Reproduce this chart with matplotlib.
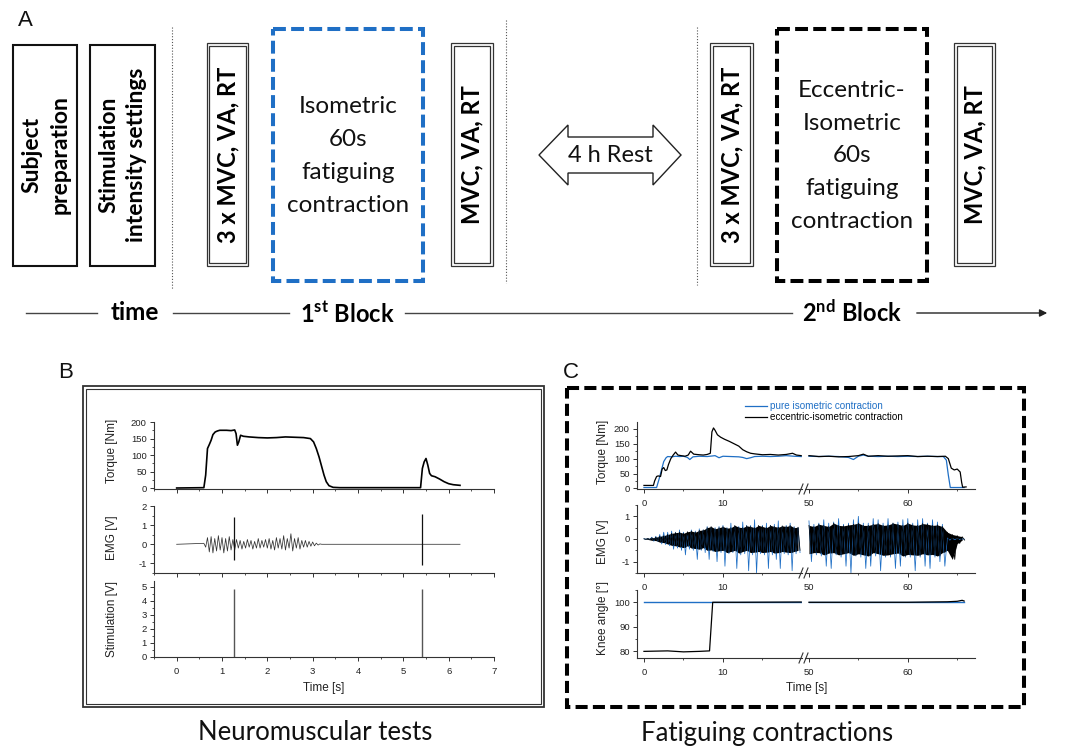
import numpy as np
import matplotlib
matplotlib.use('Agg')
import matplotlib.pyplot as plt
from matplotlib.patches import Rectangle, Polygon
from matplotlib.lines import Line2D
from matplotlib.ticker import MultipleLocator, FixedLocator

W, H = 1072, 750
plt.rcParams['font.family'] = ['Liberation Sans', 'DejaVu Sans']
plt.rcParams['axes.unicode_minus'] = False
plt.rcParams['mathtext.fontset'] = 'custom'
plt.rcParams['mathtext.rm'] = 'Lato:bold'
plt.rcParams['mathtext.it'] = 'Lato:bold'
plt.rcParams['mathtext.bf'] = 'Lato:bold'

BLUE = '#1f6fc5'
SCH = ['Lato', 'DejaVu Sans']

# ---------------- Panel B data (neuromuscular tests) ----------------
b_torque_t = [0, 0.6, 0.64, 0.68, 0.72, 0.76, 0.8, 0.85, 0.9, 0.95, 1.0, 1.1, 1.2, 1.28, 1.31,
              1.34, 1.37, 1.41, 1.47, 1.6, 1.8, 2.0, 2.2, 2.4, 2.6, 2.8, 2.95, 3.02, 3.08, 3.14,
              3.2, 3.25, 3.3, 3.36, 3.45, 3.6, 4.0, 4.5, 5.0, 5.38, 5.42, 5.46, 5.5, 5.54, 5.58,
              5.62, 5.7, 5.8, 5.9, 6.0, 6.1, 6.25]
b_torque_v = [1, 2, 40, 120, 132, 145, 162, 170, 173, 175, 175, 175, 174, 176, 165,
              130, 140, 160, 157, 155, 153, 152, 153, 155, 154, 153, 150, 140, 120, 95,
              65, 40, 20, 8, 3, 2, 2, 2, 2, 2, 60, 80, 90, 70, 45,
              38, 35, 28, 20, 14, 11, 9]
b_emg_start, b_emg_step, b_emg_end = 0.60, 0.04, 6.25
b_emg_vals = [0.05, -0.15, 0.35, -0.4, 0.4, -0.45, 0.3, -0.35, 0.45, -0.3,
              0.35, -0.45, 0.3, -0.35, 0.4, -0.3, 0.25, -0.3, 0.25, -0.2,
              0.2, -0.25, 0.15, -0.2, 0.25, -0.15, 0.2, -0.25, 0.15, -0.2,
              0.3, -0.2, 0.2, -0.15, 0.25, -0.2, 0.3, -0.25, 0.2, -0.3,
              0.35, -0.2, 0.3, -0.25, 0.45, -0.3, 0.3, -0.2, 0.55, -0.35,
              0.3, -0.2, 0.35, -0.25, 0.2, -0.15, 0.2, -0.15, 0.15, -0.1,
              0.12, -0.08, 0.06, -0.04, 0.02, 0.0]
b_spike_t = [1.27, 5.41]
b_spike_hi = [1.45, 1.6]
b_spike_lo = [-0.8, -1.1]
b_stim_t = [1.27, 5.41]
b_stim_v = [4.8, 4.8]

# ---------------- Panel C data (fatiguing contractions) ----------------
c_tq_blue1_t = [0, 1.6, 1.9, 2.2, 2.5, 2.8, 3.0, 3.5, 4.0, 4.5, 5.0, 5.5, 5.8, 6.2, 7, 8, 9, 9.5,
                10, 11, 12, 12.5, 13, 13.5, 14, 15, 16, 17, 18, 19, 19.9]
c_tq_blue1_v = [3, 3, 30, 60, 90, 103, 107, 106, 108, 107, 108, 104, 97, 106, 108, 107, 110, 103,
                108, 107, 106, 104, 100, 103, 107, 108, 107, 108, 110, 108, 107]
c_tq_black1_t = [0, 1.2, 1.35, 1.6, 1.8, 2.1, 2.3, 2.5, 2.7, 2.9, 3.1, 3.4, 3.7, 4.0, 4.3, 4.7,
                 5.2, 5.6, 5.9, 6.3, 7.0, 7.5, 8.0, 8.4, 8.6, 8.8, 9.0, 9.3, 9.7, 10.2, 10.8,
                 11.4, 12.0, 12.5, 13.0, 13.5, 14.0, 15, 16, 17, 18, 18.8, 19.3, 19.9]
c_tq_black1_v = [10, 10, 25, 40, 42, 40, 65, 70, 60, 62, 80, 100, 112, 122, 112, 110,
                 108, 112, 125, 115, 113, 112, 114, 118, 190, 203, 195, 180, 172, 165, 158,
                 150, 142, 130, 123, 118, 116, 113, 114, 112, 114, 118, 112, 110]
c_tq_blue2_t = [50, 51, 52, 53, 54, 54.5, 55, 55.5, 56, 57, 58, 59, 60, 61, 62, 63, 63.6, 63.9,
                64.1, 64.3, 64.6, 65.7]
c_tq_blue2_v = [108, 107, 108, 107, 104, 97, 108, 112, 108, 107, 108, 107, 108, 107, 108, 107,
                107, 95, 45, 3, 3, 3]
c_tq_black2_t = [50, 51, 52, 53, 54, 55, 55.5, 56, 57, 58, 59, 60, 61, 62, 63, 63.8, 64.1, 64.4,
                 64.7, 65.0, 65.3, 65.45, 65.55, 65.9]
c_tq_black2_v = [110, 107, 108, 106, 107, 110, 115, 108, 110, 108, 109, 110, 107, 108, 107, 108,
                 100, 68, 62, 65, 55, 20, 4, 5]

c_emg_step = 0.25
c_emg_black1 = [0.01, -0.01, 0.02, -0.02, 0.05, -0.06, 0.08, -0.07, 0.12, -0.14, 0.15, -0.16,
                0.2, -0.22, 0.25, -0.28, 0.28, -0.3, 0.3, -0.35, 0.25, -0.38, 0.32, -0.3,
                0.35, -0.4, 0.3, -0.42, 0.38, -0.45, 0.4, -0.38, 0.5, -0.5, 0.55, -0.48,
                0.45, -0.55, 0.5, -0.52, 0.55, -0.5, 0.48, -0.6, 0.5, -0.55, 0.6, -0.5,
                0.52, -0.62, 0.5, -0.55, 0.58, -0.5, 0.55, -0.6, 0.5, -0.58, 0.6, -0.55,
                0.55, -0.6, 0.5, -0.58, 0.6, -0.55, 0.55, -0.62, 0.52, -0.6, 0.58, -0.55,
                0.55, -0.58, 0.6, -0.6, 0.5, -0.55, 0.52, -0.5]
c_emg_blue1 = [0.01, -0.01, 0.02, -0.02, 0.08, -0.1, 0.12, -0.1, 0.2, -0.22, 0.3, -0.25,
               0.3, -0.3, 0.35, -0.45, 0.3, -0.4, 0.4, -0.5, 0.3, -0.7, 0.3, -0.45,
               0.4, -0.5, 0.35, -0.9, 0.45, -0.5, 0.4, -0.6, 0.55, -0.9, 0.5, -0.55,
               0.5, -1.0, 0.55, -0.6, 0.6, -1.2, 0.5, -0.65, 0.7, -0.6, 0.55, -1.3,
               0.55, -0.7, 0.75, -0.65, 0.6, -1.4, 0.6, -0.7, 0.85, -1.5, 0.55, -0.65,
               0.6, -0.7, 0.7, -1.3, 0.6, -0.7, 0.65, -0.9, 0.8, -1.3, 0.55, -0.65,
               0.6, -0.7, 0.7, -1.4, 0.55, -0.65, 0.5, -0.6]
c_emg_black2 = [0.6, -0.65, 0.55, -0.6, 0.65, -0.6, 0.6, -0.7, 0.55, -0.62, 0.7, -0.6,
                0.6, -0.7, 0.58, -0.65, 0.62, -0.6, 0.65, -0.72, 0.7, -0.65, 0.6, -0.7,
                0.6, -0.75, 0.65, -0.6, 0.68, -0.65, 0.6, -0.72, 0.62, -0.7, 0.7, -0.65,
                0.65, -0.62, 0.6, -0.75, 0.7, -0.68, 0.62, -0.7, 0.6, -0.72, 0.68, -0.65,
                0.65, -0.7, 0.6, -0.68, 0.62, -0.75, 0.55, -0.6, 0.3, -0.5, 0.2, -0.9,
                0.15, -0.2, 0.1, -0.05]
c_emg_blue2 = [0.8, -1.0, 0.65, -0.7, 0.7, -0.75, 0.85, -1.2, 0.7, -1.3, 0.75, -0.7,
               0.9, -0.8, 0.65, -1.2, 0.7, -1.5, 0.85, -0.75, 1.0, -0.8, 0.7, -1.3,
               0.7, -1.2, 0.9, -0.75, 0.85, -1.4, 0.7, -0.8, 0.9, -0.8, 0.7, -1.3,
               0.75, -1.2, 0.85, -0.8, 0.9, -0.8, 0.7, -1.4, 0.85, -0.8, 0.9, -1.2,
               0.7, -1.3, 0.85, -0.8, 0.75, -1.0, 0.65, -1.2, 0.05, -0.05, 0.03, -0.03,
               0.02, -0.02, 0.01, -0.01]
c_knee_blue1_t, c_knee_blue1_v = [0, 19.9], [100, 100]
c_knee_blue2_t, c_knee_blue2_v = [50, 65.7], [100, 100]
c_knee_black1_t = [0, 3, 5, 7, 8.3, 8.7, 12, 19.9]
c_knee_black1_v = [80, 80.2, 79.8, 80, 80.2, 100, 100, 100.1]
c_knee_black2_t = [50, 60, 64, 65, 65.5, 65.7]
c_knee_black2_v = [100, 100, 100.2, 100.4, 100.8, 100.5]

legend_labels = ['pure isometric contraction', 'eccentric-isometric contraction']

# ---------------- figure ----------------
fig = plt.figure(figsize=(W / 100, H / 100), dpi=100)
ov = fig.add_axes([0, 0, 1, 1], zorder=0)
ov.set_xlim(0, W)
ov.set_ylim(H, 0)
ov.axis('off')


def rect(x0, y0, x1, y1, **kw):
    ov.add_patch(Rectangle((x0, y0), x1 - x0, y1 - y0, fill=False, **kw))


def dbox(x0, y0, x1, y1):
    rect(x0, y0, x1, y1, lw=0.9, ec='#333')
    rect(x0 + 2.7, y0 + 2.7, x1 - 2.7, y1 - 2.7, lw=0.9, ec='#333')


def vdots(x, y0, y1):
    ov.plot([x, x], [y0, y1], ls=(0, (1, 1.6)), lw=0.8, color='#555')


# ---- Panel A ----
ov.text(25, 21, 'A', fontsize=16, ha='center', va='center', color='#111')
rect(13, 45, 77, 266, lw=1.5, ec='#111')
rect(89.5, 45, 154.5, 266, lw=1.5, ec='#111')
ov.text(46, 155, 'Subject\npreparation', rotation=90, ha='center', va='center',
        multialignment='center', family=SCH, fontweight='bold', fontsize=16.5, linespacing=1.4)
ov.text(123, 155, 'Stimulation\nintensity settings', rotation=90, ha='center', va='center',
        multialignment='center', family=SCH, fontweight='bold', fontsize=16.5, linespacing=1.4)
vdots(172.3, 27, 289)
dbox(206.7, 43.3, 248.3, 266)
ov.text(227.5, 155, '3 x MVC, VA, RT', rotation=90, ha='center', va='center',
        family=SCH, fontweight='bold', fontsize=17)
rect(272.7, 29.3, 423.3, 280.7, lw=2.9, ec=BLUE, ls=(0, (3.2, 1.3)))
ov.text(348, 156, 'Isometric\n60s\nfatiguing\ncontraction', ha='center', va='center',
        multialignment='center', family=SCH, fontsize=17.5, linespacing=1.7, color='#111')
dbox(451, 43.3, 492.5, 266)
ov.text(471.7, 155, 'MVC, VA, RT', rotation=90, ha='center', va='center',
        family=SCH, fontweight='bold', fontsize=17)
vdots(505.7, 20, 283)
arrow_pts = [(539, 155), (568, 125), (568, 137), (653, 137), (653, 125), (681, 155),
             (653, 185), (653, 173), (568, 173), (568, 185)]
ov.add_patch(Polygon(arrow_pts, closed=True, fc='white', ec='#222', lw=1.0))
ov.text(610, 155, '4 h Rest', ha='center', va='center', family=SCH, fontsize=17, color='#111')
vdots(696.7, 27, 285)
dbox(710, 43.3, 753, 266)
ov.text(731.5, 155, '3 x MVC, VA, RT', rotation=90, ha='center', va='center',
        family=SCH, fontweight='bold', fontsize=17)
rect(776.7, 29.3, 927.3, 280.7, lw=2.9, ec='black', ls=(0, (3.2, 1.3)))
ov.text(852, 156, 'Eccentric-\nIsometric\n60s\nfatiguing\ncontraction', ha='center', va='center',
        multialignment='center', family=SCH, fontsize=17.5, linespacing=1.68, color='#111')
dbox(954, 43.3, 995, 266)
ov.text(974.5, 155, 'MVC, VA, RT', rotation=90, ha='center', va='center',
        family=SCH, fontweight='bold', fontsize=17)

# timeline
TY = 313
for xa, xb in [(26, 97), (172.7, 289), (405, 792)]:
    ov.plot([xa, xb], [TY, TY], color='#444', lw=1.0)
ov.annotate('', xy=(1050, TY), xytext=(914, TY),
            arrowprops=dict(arrowstyle='-|>', color='#222', lw=1.0, mutation_scale=11))
ov.text(134.5, TY, 'time', ha='center', va='center', family=SCH, fontweight='bold', fontsize=17.5)
ov.text(347, TY, r'1$^{\mathrm{st}}$ Block', ha='center', va='center', family=SCH,
        fontweight='bold', fontsize=17)
ov.text(852, TY, r'2$^{\mathrm{nd}}$ Block', ha='center', va='center', family=SCH,
        fontweight='bold', fontsize=17)

# ---- Panel frames and labels ----
ov.text(66, 372, 'B', fontsize=16, ha='center', va='center', color='#111')
ov.text(571, 372, 'C', fontsize=16, ha='center', va='center', color='#111')
rect(83, 386, 544, 707, lw=1.3, ec='#333')
rect(86.3, 389.3, 540.7, 703.7, lw=0.8, ec='#333')
rect(566.5, 388, 1024, 707, lw=2.9, ec='black', ls=(0, (3.0, 1.3)))
ov.text(315, 733, 'Neuromuscular tests', ha='center', va='center', family=SCH, fontsize=18.5,
        color='#111')
ov.text(767, 733, 'Fatiguing contractions', ha='center', va='center', family=SCH, fontsize=18.5,
        color='#111')


def make_ax(x0, y0, x1, y1, xlim, ylim, left=True):
    ax = fig.add_axes([x0 / W, 1 - y1 / H, (x1 - x0) / W, (y1 - y0) / H], zorder=2)
    ax.patch.set_alpha(0)
    ax.set_xlim(*xlim)
    ax.set_ylim(*ylim)
    for s in ('top', 'right'):
        ax.spines[s].set_visible(False)
    for s in ('left', 'bottom'):
        ax.spines[s].set_linewidth(0.8)
        ax.spines[s].set_color('#333')
    ax.tick_params(which='major', direction='out', length=3.2, width=0.7, color='#333',
                   labelsize=6.8, labelcolor='#222', pad=2)
    ax.tick_params(which='minor', direction='out', length=1.7, width=0.6, color='#333')
    ax.tick_params(axis='x', which='major', pad=4)
    if not left:
        ax.spines['left'].set_visible(False)
        ax.tick_params(axis='y', which='both', left=False, labelleft=False)
    return ax


# ---- Panel B plots ----
bx = (-0.5, 7.0)
axb1 = make_ax(154, 422, 494, 489, bx, (-2, 200))
axb1.plot(b_torque_t, b_torque_v, color='black', lw=1.2)
axb1.yaxis.set_major_locator(MultipleLocator(50))
axb1.yaxis.set_minor_locator(MultipleLocator(25))

axb2 = make_ax(154, 506, 494, 573, bx, (-1.5, 2))
b_emg_t = [round(b_emg_start + b_emg_step * i, 3) for i in range(len(b_emg_vals))]
axb2.plot([0] + b_emg_t + [b_emg_end], [0] + b_emg_vals + [0], color='#333', lw=0.55)
axb2.vlines(b_spike_t, b_spike_lo, b_spike_hi, color='#111', lw=0.9)
axb2.yaxis.set_major_locator(MultipleLocator(1))
axb2.yaxis.set_minor_locator(MultipleLocator(0.5))

axb3 = make_ax(154, 581, 494, 657, bx, (0, 5.4))
axb3.vlines(b_stim_t, 0, b_stim_v, color='#555', lw=1.0)
axb3.yaxis.set_major_locator(MultipleLocator(1))
axb3.yaxis.set_minor_locator(MultipleLocator(0.5))

for a in (axb1, axb2, axb3):
    a.xaxis.set_major_locator(MultipleLocator(1))
    a.xaxis.set_minor_locator(MultipleLocator(0.5))
for a in (axb1, axb2):
    a.tick_params(axis='x', labelbottom=False)

for txt, y in [('Torque [Nm]', 451), ('EMG [V]', 538), ('Stimulation [V]', 619)]:
    ov.text(112, y, txt, rotation=90, ha='center', va='center', fontsize=8.5, color='#222')
ov.text(324, 688, 'Time [s]', ha='center', va='center', fontsize=8.5, color='#222')

# ---- Panel C plots ----
segs = [(637, 802, (-0.88, 20.0), True, [0, 10], [5, 15]),
        (805, 975, (49.6, 66.8), False, [50, 60], [55, 65])]
rows = [(422, 489, (-2, 223), 50, 25),
        (505, 573, (-1.5, 1.5), 1, 0.5),
        (590, 658, (77.3, 105), 10, 5)]
axc = [[None, None] for _ in rows]
for r, (y0, y1, yl, maj, mnr) in enumerate(rows):
    for s, (x0, x1, xl, left, xmaj, xmin) in enumerate(segs):
        a = make_ax(x0, y0, x1, y1, xl, yl, left=left)
        a.xaxis.set_major_locator(FixedLocator(xmaj))
        a.xaxis.set_minor_locator(FixedLocator(xmin))
        a.yaxis.set_major_locator(MultipleLocator(maj))
        a.yaxis.set_minor_locator(MultipleLocator(mnr))
        axc[r][s] = a

# torque
hb, = axc[0][0].plot(c_tq_blue1_t, c_tq_blue1_v, color=BLUE, lw=0.9)
hk, = axc[0][0].plot(c_tq_black1_t, c_tq_black1_v, color='black', lw=0.9)
axc[0][1].plot(c_tq_blue2_t, c_tq_blue2_v, color=BLUE, lw=0.9)
axc[0][1].plot(c_tq_black2_t, c_tq_black2_v, color='black', lw=0.9)


# EMG: sample trace; the black one also gets its dense band (paired +/- samples)
def emg_trace(ax, t0, vals, color, lw, band):
    t = [t0 + c_emg_step * i for i in range(len(vals))]
    if band:
        ax.fill_between(t[0::2], vals[0::2], vals[1::2], color=color, lw=0)
    ax.plot(t, vals, color=color, lw=lw)


emg_trace(axc[1][0], 0, c_emg_blue1, BLUE, 0.55, False)
emg_trace(axc[1][0], 0, c_emg_black1, 'black', 0.55, True)
emg_trace(axc[1][1], 50, c_emg_blue2, BLUE, 0.55, False)
emg_trace(axc[1][1], 50, c_emg_black2, 'black', 0.55, True)

# knee angle
axc[2][0].plot(c_knee_blue1_t, c_knee_blue1_v, color=BLUE, lw=1.0)
axc[2][0].plot(c_knee_black1_t, c_knee_black1_v, color='black', lw=0.9)
axc[2][1].plot(c_knee_blue2_t, c_knee_blue2_v, color=BLUE, lw=1.0)
axc[2][1].plot(c_knee_black2_t, c_knee_black2_v, color='black', lw=0.9)

# axis-break marks
for yb in (489, 573, 658):
    for dx in (0, 5):
        ov.plot([799 + dx, 803 + dx], [yb + 5, yb - 5], color='#333', lw=0.8, zorder=5)

fig.legend(handles=[hb, hk], labels=legend_labels, loc='upper left',
           bbox_to_anchor=(745 / W, 1 - 401 / H), frameon=False, fontsize=7.1,
           handlelength=2.2, handletextpad=0.35, labelspacing=0.15, borderpad=0,
           borderaxespad=0, labelcolor='linecolor')

for txt, y in [('Torque [Nm]', 452), ('EMG [V]', 542), ('Knee angle [°]', 618)]:
    ov.text(603, y, txt, rotation=90, ha='center', va='center', fontsize=8.5, color='#222')
ov.text(807, 688, 'Time [s]', ha='center', va='center', fontsize=8.5, color='#222')

fig.savefig('out.png', dpi=100)
